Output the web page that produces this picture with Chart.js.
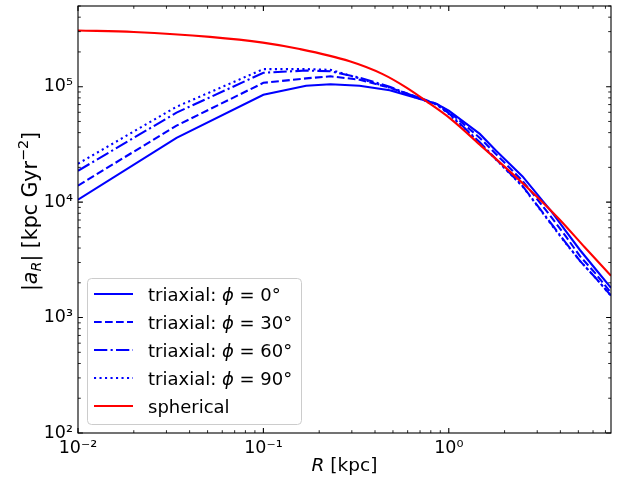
<!DOCTYPE html>
<html>
<head>
<meta charset="utf-8">
<script src="https://cdn.jsdelivr.net/npm/chart.js@4.4.1/dist/chart.umd.min.js"></script>
<style>
  html, body { margin: 0; padding: 0; background: #fff; }
  canvas { display: block; }
</style>
</head>
<body>
<canvas id="accChart" width="630" height="479"></canvas>
<script>
// Radien der triaxialen Profile (kpc)
const rTriaxial = [0.01, 0.034, 0.1, 0.17, 0.23, 0.33, 0.48, 0.67, 0.86, 1.0, 1.47, 1.8, 2.5, 3.2, 3.6, 4.3, 5.1, 6.2, 7.5];
// |a_R| in kpc Gyr^-2 fuer die vier Winkel
const accPhi0  = [1.05e4, 3.6e4, 8.5e4, 1.02e5, 1.05e5, 1.02e5, 9.3e4, 8.0e4, 7.1e4, 6.2e4, 3.9e4, 2.79e4, 1.67e4, 1.03e4, 8.2e3, 5.55e3, 3.85e3, 2.62e3, 1.81e3];
const accPhi30 = [1.39e4, 4.6e4, 1.08e5, 1.18e5, 1.23e5, 1.15e5, 9.8e4, 8.2e4, 7.1e4, 6.1e4, 3.6e4, 2.6e4, 1.53e4, 9.3e3, 7.3e3, 5.0e3, 3.4e3, 2.4e3, 1.64e3];
const accPhi60 = [1.87e4, 5.96e4, 1.32e5, 1.38e5, 1.36e5, 1.2e5, 1.0e5, 8.1e4, 7.0e4, 5.9e4, 3.3e4, 2.35e4, 1.38e4, 8.2e3, 6.4e3, 4.4e3, 3.1e3, 2.2e3, 1.55e3];
const accPhi90 = [2.15e4, 6.7e4, 1.42e5, 1.42e5, 1.4e5, 1.18e5, 9.8e4, 8.0e4, 7.0e4, 5.8e4, 3.25e4, 2.33e4, 1.37e4, 8.1e3, 6.3e3, 4.35e3, 3.1e3, 2.2e3, 1.54e3];

// sphaerisches Vergleichsprofil
const rSpherical   = [0.01, 0.02, 0.0515, 0.0994, 0.157, 0.292, 0.44, 0.594, 0.79, 1.012, 1.47, 2.73, 3.97, 5.41, 7.5];
const accSpherical = [3.07e5, 2.975e5, 2.7e5, 2.41e5, 2.12e5, 1.66e5, 1.285e5, 9.77e4, 7.13e4, 5.34e4, 3.15e4, 1.28e4, 7.04e3, 4.06e3, 2.3e3];

const seriesLabels = ["triaxial: ϕ = 0°", "triaxial: ϕ = 30°", "triaxial: ϕ = 60°", "triaxial: ϕ = 90°", "spherical"];

// Achsen
const xRange = [0.01, 7.5];
const yRange = [1e2, 5e5];
const xTickValues = [0.01, 0.1, 1];
const yTickValues = [1e2, 1e3, 1e4, 1e5];

const FONT = "'DejaVu Sans', sans-serif";
const FS = 17.5;
const LW = 2.1;

const SUP = { "0": "⁰", "1": "¹", "2": "²", "3": "³", "4": "⁴", "5": "⁵", "6": "⁶", "7": "⁷", "8": "⁸", "9": "⁹", "-": "⁻" };

function powerLabel(v) {
  const e = Math.round(Math.log10(v));
  return "10" + String(e).split("").map(c => SUP[c]).join("");
}

function tickCallback(list) {
  return function (value) {
    return list.some(t => Math.abs(value / t - 1) < 1e-6) ? powerLabel(value) : "";
  };
}

function pairs(xs, ys) {
  return xs.map((x, i) => ({ x: x, y: ys[i] }));
}

// Text mit kursiven Teilen und Hoch-/Tiefstellung
function setFont(ctx, p, size) {
  ctx.font = (p.italic ? "oblique " : "") + (size * (p.scale || 1)) + "px " + FONT;
}

function richWidth(ctx, parts, size) {
  let w = 0;
  parts.forEach(p => {
    setFont(ctx, p, size);
    w += ctx.measureText(p.text).width;
  });
  return w;
}

function drawRich(ctx, parts, x, y, size) {
  let cx = x;
  parts.forEach(p => {
    setFont(ctx, p, size);
    ctx.fillText(p.text, cx, y - (p.shift || 0) * size);
    cx += ctx.measureText(p.text).width;
  });
}

function labelParts(label) {
  const idx = label.indexOf("ϕ");
  if (idx < 0) return [{ text: label }];
  return [
    { text: label.slice(0, idx) },
    { text: "ϕ", italic: true },
    { text: label.slice(idx + 1) }
  ];
}

function logTicks(min, max) {
  const out = [];
  for (let e = Math.floor(Math.log10(min)); e <= Math.ceil(Math.log10(max)); e++) {
    for (let m = 1; m < 10; m++) {
      const v = m * Math.pow(10, e);
      if (v >= min * (1 - 1e-9) && v <= max * (1 + 1e-9)) out.push({ v: v, major: m === 1 });
    }
  }
  return out;
}

// Rahmen, Ticks nach innen, Achsentitel und Legende
const decorPlugin = {
  id: "decor",
  afterDraw(chart) {
    const ctx = chart.ctx;
    const a = chart.chartArea;
    const xs = chart.scales.x;
    const ys = chart.scales.y;
    ctx.save();

    ctx.strokeStyle = "#000";
    logTicks(xRange[0], xRange[1]).forEach(t => {
      const px = xs.getPixelForValue(t.v);
      const len = t.major ? 4.9 : 2.8;
      ctx.lineWidth = t.major ? 1.1 : 0.85;
      ctx.beginPath();
      ctx.moveTo(px, a.bottom); ctx.lineTo(px, a.bottom - len);
      ctx.moveTo(px, a.top); ctx.lineTo(px, a.top + len);
      ctx.stroke();
    });
    logTicks(yRange[0], yRange[1]).forEach(t => {
      const py = ys.getPixelForValue(t.v);
      const len = t.major ? 4.9 : 2.8;
      ctx.lineWidth = t.major ? 1.1 : 0.85;
      ctx.beginPath();
      ctx.moveTo(a.left, py); ctx.lineTo(a.left + len, py);
      ctx.moveTo(a.right, py); ctx.lineTo(a.right - len, py);
      ctx.stroke();
    });
    ctx.lineWidth = 1.1;
    ctx.strokeRect(a.left, a.top, a.right - a.left, a.bottom - a.top);

    // Achsentitel
    ctx.fillStyle = "#000";
    ctx.textBaseline = "alphabetic";
    ctx.textAlign = "left";
    const xTitle = [{ text: "R", italic: true }, { text: " [kpc]" }];
    const xSize = 18.5;
    const xw = richWidth(ctx, xTitle, xSize);
    drawRich(ctx, xTitle, (a.left + a.right) / 2 - xw / 2, 470.5, xSize);

    const yTitle = [
      { text: "|" }, { text: "a", italic: true },
      { text: "R", italic: true, scale: 0.7, shift: -0.2 },
      { text: "| [kpc Gyr" },
      { text: "−2", scale: 0.7, shift: 0.42 },
      { text: "]" }
    ];
    const ySize = 20.5;
    const yw = richWidth(ctx, yTitle, ySize);
    ctx.save();
    ctx.translate(37, 211.5);
    ctx.rotate(-Math.PI / 2);
    drawRich(ctx, yTitle, -yw / 2, 0, ySize);
    ctx.restore();

    // Legende
    const bx = 87.5, by = 278.5, bw = 214, bh = 146, r = 4;
    ctx.beginPath();
    ctx.moveTo(bx + r, by);
    ctx.arcTo(bx + bw, by, bx + bw, by + bh, r);
    ctx.arcTo(bx + bw, by + bh, bx, by + bh, r);
    ctx.arcTo(bx, by + bh, bx, by, r);
    ctx.arcTo(bx, by, bx + bw, by, r);
    ctx.closePath();
    ctx.fillStyle = "rgba(255,255,255,0.8)";
    ctx.fill();
    ctx.strokeStyle = "#cccccc";
    ctx.lineWidth = 1;
    ctx.stroke();

    chart.data.datasets.forEach((ds, i) => {
      const rowY = 294 + i * 28;
      ctx.strokeStyle = ds.borderColor;
      ctx.lineWidth = LW;
      ctx.lineCap = "butt";
      ctx.setLineDash(ds.borderDash || []);
      ctx.beginPath();
      ctx.moveTo(94, rowY);
      ctx.lineTo(133, rowY);
      ctx.stroke();
      ctx.setLineDash([]);
      ctx.fillStyle = "#000";
      drawRich(ctx, labelParts(ds.label), 148, rowY + 6.5, 18);
    });

    ctx.restore();
  }
};

function blueSet(i, values, dash, order) {
  return {
    label: seriesLabels[i],
    data: pairs(rTriaxial, values),
    borderColor: "#0000ff",
    borderWidth: LW,
    borderDash: dash,
    pointRadius: 0,
    tension: 0,
    clip: 0,
    order: order
  };
}

// eslint-disable-next-line no-undef
new Chart(document.getElementById("accChart"), {
  type: "line",
  data: {
    datasets: [
      blueSet(0, accPhi0, [], 5),
      blueSet(1, accPhi30, [7.7, 3.3], 4),
      blueSet(2, accPhi60, [13.3, 3.3, 2.1, 3.3], 3),
      blueSet(3, accPhi90, [2.1, 3.4], 2),
      {
        label: seriesLabels[4],
        data: pairs(rSpherical, accSpherical),
        borderColor: "#ff0000",
        borderWidth: LW,
        pointRadius: 0,
        cubicInterpolationMode: "monotone",
        clip: 0,
        order: 1
      }
    ]
  },
  options: {
    responsive: false,
    animation: false,
    devicePixelRatio: 1,
    layout: { padding: { top: 6, right: 19, left: 0, bottom: 0 } },
    plugins: {
      legend: { display: false },
      tooltip: { enabled: false }
    },
    scales: {
      x: {
        type: "logarithmic",
        min: xRange[0],
        max: xRange[1],
        grid: { display: false, drawTicks: false },
        border: { display: false },
        ticks: {
          callback: tickCallback(xTickValues),
          autoSkip: false,
          maxRotation: 0,
          minRotation: 0,
          padding: 4.5,
          color: "#000",
          font: { family: FONT, size: FS }
        },
        afterFit(scale) {
          scale.height = 46;
          scale.paddingLeft = 0;
          scale.paddingRight = 0;
        }
      },
      y: {
        type: "logarithmic",
        min: yRange[0],
        max: yRange[1],
        grid: { display: false, drawTicks: false },
        border: { display: false },
        ticks: {
          callback: tickCallback(yTickValues),
          autoSkip: false,
          padding: 5,
          color: "#000",
          font: { family: FONT, size: FS }
        },
        afterFit(scale) {
          scale.width = 78;
          scale.paddingTop = 0;
          scale.paddingBottom = 0;
        }
      }
    }
  },
  plugins: [decorPlugin]
});
</script>
</body>
</html>
